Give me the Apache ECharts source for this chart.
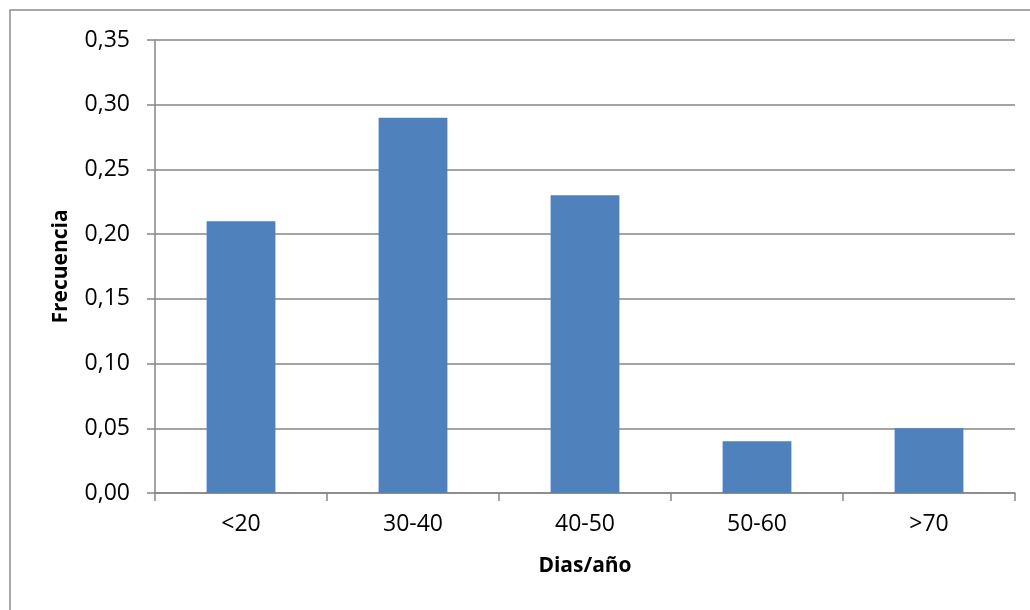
<!DOCTYPE html>
<html>
<head>
<meta charset="utf-8">
<script src="https://cdn.jsdelivr.net/npm/echarts@6/dist/echarts.min.js"></script>
<style>
  html, body { margin: 0; padding: 0; background: #fff; }
  #chart { width: 1030px; height: 610px; }
</style>
</head>
<body>
<div id="chart"></div>
<script>
// Frequency of days per year, grouped in ranges
const categories = ['<20', '30-40', '40-50', '50-60', '>70'];
const frecuencia = [0.21, 0.29, 0.23, 0.04, 0.05];
const yTicks = { min: 0, max: 0.35, interval: 0.05 };

const axisGray = '#868686';
const font = '"Open Sans", "Liberation Sans", sans-serif';

const chart = echarts.init(document.getElementById('chart'), null, { renderer: 'canvas' });
chart.setOption({
  animation: false,
  backgroundColor: '#fff',
  graphic: [{
    type: 'rect',
    shape: { x: 10, y: 10, width: 1040, height: 620 },
    style: { fill: 'none', stroke: '#8c8c8c', lineWidth: 1.5 },
    silent: true
  }],
  grid: { left: 155, right: 15, top: 40, bottom: 117, containLabel: false },
  xAxis: {
    type: 'category',
    data: categories,
    name: 'Dias/año',
    nameLocation: 'middle',
    nameGap: 63,
    nameTextStyle: { fontFamily: font, fontSize: 21, fontWeight: 'bold', color: '#000' },
    axisLine: { lineStyle: { color: axisGray, width: 1.5 } },
    axisTick: { show: true, length: 8, alignWithLabel: false, lineStyle: { color: axisGray, width: 1.5 } },
    axisLabel: { fontFamily: font, fontSize: 23, color: '#000', margin: 20 },
    splitLine: { show: false }
  },
  yAxis: {
    type: 'value',
    min: yTicks.min,
    max: yTicks.max,
    interval: yTicks.interval,
    name: 'Frecuencia',
    nameLocation: 'middle',
    nameGap: 83,
    nameTextStyle: { fontFamily: font, fontSize: 21, fontWeight: 'bold', color: '#000' },
    axisLine: { show: true, lineStyle: { color: axisGray, width: 1.5 } },
    axisTick: { show: true, length: 8, lineStyle: { color: axisGray, width: 1.5 } },
    axisLabel: {
      fontFamily: font, fontSize: 23, color: '#000', margin: 25,
      formatter: v => v.toFixed(2).replace('.', ',')
    },
    splitLine: { show: true, lineStyle: { color: axisGray, width: 1.5 } }
  },
  series: [{
    type: 'bar',
    data: frecuencia,
    barWidth: '40%',
    itemStyle: { color: '#4F81BD' }
  }]
});
</script>
</body>
</html>
